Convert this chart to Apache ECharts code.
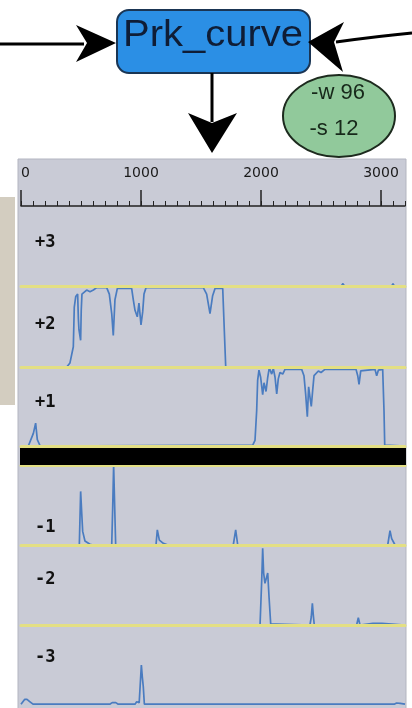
<!DOCTYPE html>
<html>
<head>
<meta charset="utf-8">
<script src="https://cdn.jsdelivr.net/npm/echarts@6/dist/echarts.min.js"></script>
<style>
html,body{margin:0;padding:0;background:#fff}
#chart{width:412px;height:708px}
</style>
</head>
<body>
<div id="chart"></div>
<script>
// ruler / position axis
var xMax = 3200
var rulerLabels = [0, 1000, 2000, 3000]
var trackNames = ['+3', '+2', '+1', '-1', '-2', '-3']

// frame curves, [position, score]
var trackP3 = [[0,0],[2670,0],[2683,0.03],[2695,0],[3090,0],[3100,0.03],[3110,0],[3200,0]]
var trackP2 = [[0,0],[381,0],[408,0.05],[436,0.25],[444,0.74],[456,0.87],[472,0.9],[478,0.6],[483,0.46],[497,0.33],[502,0.7],[508,0.9],[547,0.95],[575,0.93],[603,0.95],[631,0.98],[714,0.98],[736,0.9],[756,0.66],[769,0.39],[783,0.83],[803,0.97],[922,0.97],[936,0.83],[950,0.7],[969,0.62],[983,0.79],[1000,0.52],[1014,0.68],[1025,0.9],[1042,0.98],[1519,0.98],[1547,0.9],[1575,0.66],[1597,0.88],[1617,0.97],[1681,0.97],[1694,0.46],[1706,0],[3200,0]]
var trackP1 = [[0,0],[61,0],[103,0.16],[122,0.29],[136,0.08],[160,0],[1931,0.01],[1950,0.07],[1964,0.45],[1972,0.83],[1983,0.96],[1997,0.87],[2014,0.65],[2025,0.8],[2042,0.69],[2056,0.87],[2069,0.99],[2089,0.91],[2103,0.98],[2117,0.87],[2131,0.66],[2144,0.85],[2158,0.93],[2181,0.91],[2200,0.97],[2339,0.97],[2358,0.89],[2372,0.66],[2386,0.37],[2397,0.75],[2408,0.62],[2419,0.5],[2431,0.71],[2442,0.89],[2458,0.91],[2478,0.95],[2500,0.93],[2533,0.97],[2792,0.97],[2806,0.89],[2817,0.78],[2831,0.95],[2950,0.97],[2964,0.89],[2978,0.96],[3014,0.97],[3025,0.45],[3031,0.01],[3200,0]]
var trackM1 = [[0,0],[486,0],[497,0.67],[506,0.4],[514,0.17],[533,0.05],[575,0.01],[600,0],[756,0],[764,0.46],[772,1.0],[781,0.46],[789,0],[1125,0],[1136,0.19],[1153,0.06],[1186,0.02],[1225,0],[1769,0],[1789,0.19],[1806,0],[3056,0],[3075,0.18],[3089,0.08],[3103,0.1],[3117,0],[3200,0]]
var trackM2 = [[0,0],[1992,0],[2006,0.56],[2014,0.96],[2022,0.65],[2033,0.52],[2044,0.54],[2056,0.65],[2067,0.35],[2075,0.35],[2081,0.01],[2130,0.01],[2140,0],[2408,0],[2419,0.1],[2428,0.27],[2436,0.12],[2444,0],[2797,0],[2811,0.09],[2825,0],[2933,0.02],[3008,0.02],[3020,0],[3200,0]]
var trackM3 = [[0,0.01],[30,0.07],[50,0.07],[75,0.04],[100,0.01],[740,0.01],[760,0.03],[790,0.03],[810,0.01],[950,0.01],[964,0.04],[985,0.03],[992,0.04],[1003,0.5],[1011,0.35],[1019,0.23],[1028,0.01],[1810,0.01],[1825,0.03],[1840,0.01],[2490,0.01],[2506,0.03],[2520,0.01],[2840,0.01],[2853,0.03],[2866,0.01],[3110,0.01],[3130,0.025],[3160,0.02],[3200,0.01]]

var tracks = [trackP3, trackP2, trackP1, trackM1, trackM2, trackM3]
var trackTop = [205, 286, 367, 465, 545, 625]
var trackH = [81, 81, 79, 80, 80, 80]
var labelY = [243, 325, 403, 528, 580, 658]

var yellow = '#e3df84'
var blue = '#4a7cc0'

var mychart = echarts.init(document.getElementById('chart'))

var grids = [
	{left: 21, width: 384, top: 205, height: 1}, // minor ruler ticks
	{left: 21, width: 360, top: 205, height: 1}  // major ruler ticks + labels
]
var xAxes = [
	{gridIndex: 0, type: 'value', position: 'top', min: 0, max: xMax, interval: 100,
		axisLine: {lineStyle: {color: '#222', width: 1.5}},
		axisTick: {length: 5, lineStyle: {color: '#222', width: 1}},
		axisLabel: {show: false}, splitLine: {show: false}},
	{gridIndex: 1, type: 'value', position: 'top', min: 0, max: rulerLabels[rulerLabels.length - 1], interval: 1000,
		axisLine: {show: false},
		axisTick: {length: 16, lineStyle: {color: '#222', width: 1.5}},
		axisLabel: {margin: 25, color: '#1a1a1a', fontSize: 14, fontFamily: 'DejaVu Sans', alignMinLabel: 'left',
			formatter: function (v) { return String(v) }},
		splitLine: {show: false}}
]
var yAxes = [
	{gridIndex: 0, type: 'value', show: false, min: 0, max: 1},
	{gridIndex: 1, type: 'value', show: false, min: 0, max: 1}
]
var series = []
var labels = []

for (var i = 0; i < tracks.length; i++) {
	var g = i + 2
	grids.push({left: 21, width: 384, top: trackTop[i], height: trackH[i]})
	xAxes.push({gridIndex: g, type: 'value', position: 'bottom', min: 0, max: xMax, z: 5,
		axisLine: {show: i != 5, lineStyle: {color: yellow, width: 3}},
		axisTick: {show: false}, axisLabel: {show: false}, splitLine: {show: false}})
	yAxes.push({gridIndex: g, type: 'value', show: false, min: 0, max: 1})
	series.push({
		type: 'line', xAxisIndex: g, yAxisIndex: g, data: tracks[i],
		showSymbol: false, symbol: 'none', animation: false,
		lineStyle: {color: blue, width: 1.7}
	})
	labels.push({type: 'text', z: 20, style: {
		text: trackNames[i], x: 35, y: labelY[i], fill: '#111',
		fontSize: 17, fontWeight: 'bold', fontFamily: 'DejaVu Sans Mono', verticalAlign: 'middle'
	}})
}
// yellow edge under the black bar (top of the -1 frame)
xAxes.push({gridIndex: 5, type: 'value', position: 'top', min: 0, max: xMax, z: 5,
	axisLine: {lineStyle: {color: yellow, width: 3}},
	axisTick: {show: false}, axisLabel: {show: false}, splitLine: {show: false}})

var graphics = [
	// panel + side block
	{type: 'rect', z: -10, shape: {x: 18, y: 159, width: 388, height: 560}, style: {fill: '#c9cbd6', stroke: '#b3b5c0', lineWidth: 1}},
	{type: 'rect', z: -10, shape: {x: 0, y: 197, width: 15, height: 208}, style: {fill: '#d3cdc0'}},
	{type: 'rect', z: 10, shape: {x: 20, y: 448, width: 386, height: 17}, style: {fill: '#000'}},
	// arrows
	{type: 'line', z: 30, shape: {x1: 0, y1: 44, x2: 84, y2: 44}, style: {stroke: '#000', lineWidth: 3}},
	{type: 'polygon', z: 30, shape: {points: [[116, 43], [76, 25], [87, 43], [76, 62]]}, style: {fill: '#000'}},
	{type: 'bezierCurve', z: 30, shape: {x1: 412, y1: 33, x2: 336, y2: 42, cpx1: 380, cpy1: 36}, style: {stroke: '#000', lineWidth: 3, fill: null}},
	{type: 'line', z: 30, shape: {x1: 212, y1: 73, x2: 212, y2: 122}, style: {stroke: '#000', lineWidth: 3}},
	{type: 'polygon', z: 30, shape: {points: [[212, 153], [188, 113], [212, 123], [237, 113]]}, style: {fill: '#000'}},
	// box
	{type: 'rect', z: 25, shape: {x: 117, y: 10, width: 193, height: 63, r: 12}, style: {fill: '#2b8fe5', stroke: '#1a3554', lineWidth: 2}},
	{type: 'text', z: 26, scaleX: 1.08, x: 213, y: 36, style: {text: 'Prk_curve', x: 0, y: 0, align: 'center', verticalAlign: 'middle',
		fill: '#0f1d36', fontSize: 37, fontFamily: 'Liberation Sans'}},
	{type: 'polygon', z: 31, shape: {points: [[308, 42], [344, 22], [334, 42], [343, 72]]}, style: {fill: '#000'}},
	// parameters
	{type: 'ellipse', z: 25, shape: {cx: 339, cy: 116, rx: 56, ry: 41}, style: {fill: '#91c99b', stroke: '#1d2a1e', lineWidth: 2}},
	{type: 'text', z: 26, style: {text: '-w 96', x: 338, y: 93, align: 'center', verticalAlign: 'middle', fill: '#17281a', fontSize: 22, fontFamily: 'Liberation Sans'}},
	{type: 'text', z: 26, style: {text: '-s 12', x: 334, y: 129, align: 'center', verticalAlign: 'middle', fill: '#17281a', fontSize: 22, fontFamily: 'Liberation Sans'}}
].concat(labels)

var option = {
	animation: false,
	grid: grids,
	xAxis: xAxes,
	yAxis: yAxes,
	series: series,
	graphic: graphics
}
mychart.setOption(option)
</script>
</body>
</html>
